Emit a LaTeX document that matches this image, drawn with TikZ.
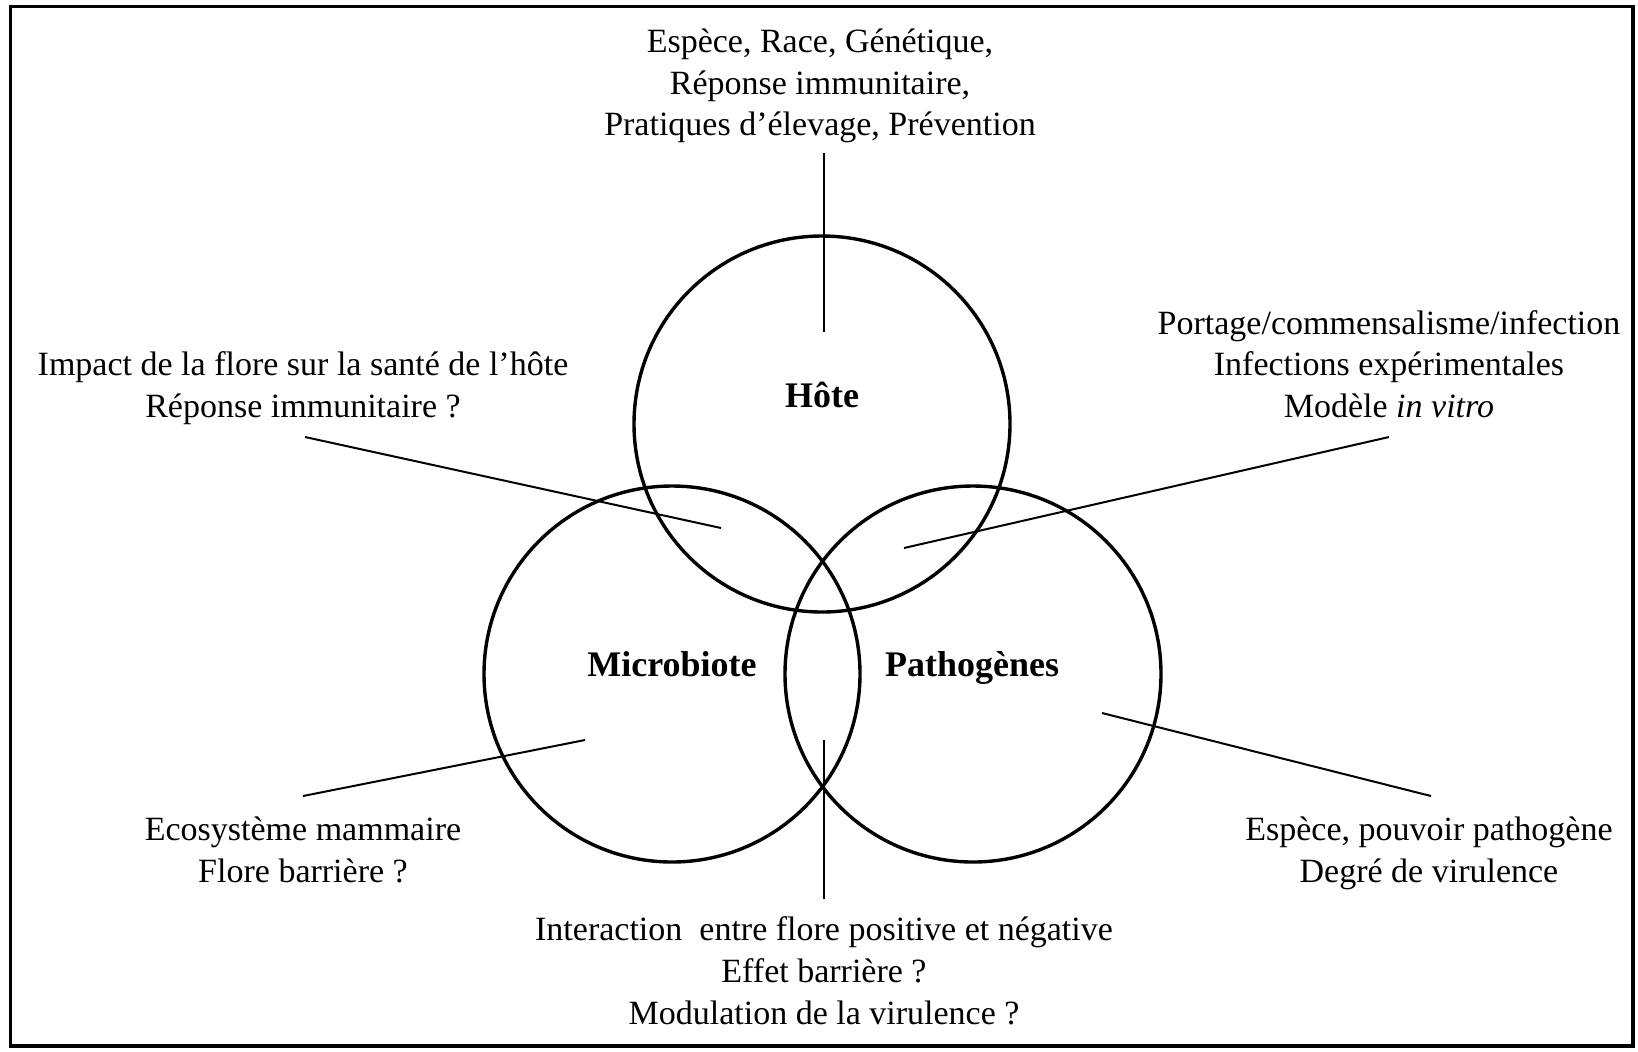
\documentclass[tikz,border=0pt]{standalone}
\usepackage{fontspec}
\setmainfont{Liberation Serif}
\begin{document}
\begin{tikzpicture}[x=0.5pt,y=-0.5pt,
  txt/.style={align=center,inner sep=0pt,font=\fontsize{17}{20.9}\selectfont},
  lbl/.style={inner sep=0pt,font=\fontsize{18}{21}\selectfont\bfseries},
  ring/.style={draw,circle,line width=1.7pt,minimum size=188pt,inner sep=0pt},
  lead/.style={draw,line width=1pt}]
\useasboundingbox (0,0) rectangle (1638,1051);
\draw[line width=1.75pt] (10.5,6.5) rectangle (1633,1046);
% circles
\node[ring] (hote) at (822,424) {};
\node[ring] (micro) at (672,674) {};
\node[ring] (patho) at (973,674) {};
% circle labels
\node[lbl] (lhote) at (822,395) {Hôte};
\node[lbl] (lmicro) at (672,664) {Microbiote};
\node[lbl] (lpatho) at (972,668) {Pathogènes};
% text blocks
\node[txt] (ttop) at (820,86) {Espèce, Race, Génétique,\\Réponse immunitaire,\\Pratiques d’élevage, Prévention};
\node[txt] (tul) at (303,388) {Impact de la flore sur la santé de l’hôte\\Réponse immunitaire ?};
\node[txt] (tur) at (1389,364) {Portage/commensalisme/infection\\Infections expérimentales\\Modèle \textit{in vitro}};
\node[txt] (tll) at (303,850) {Ecosystème mammaire\\Flore barrière ?};
\node[txt] (tlr) at (1429,853) {Espèce, pouvoir pathogène\\Degré de virulence};
\node[txt] (tbot) at (824,971) {Interaction\ \ entre flore positive et négative\\Effet barrière ?\\Modulation de la virulence ?};
% leader end points
\coordinate (p1a) at (824,153); \coordinate (p1b) at (824,332);
\coordinate (p2a) at (305,437); \coordinate (p2b) at (721,528);
\coordinate (p3a) at (1389,437); \coordinate (p3b) at (904,548);
\coordinate (p4a) at (303,796); \coordinate (p4b) at (585,740);
\coordinate (p5a) at (824,899); \coordinate (p5b) at (824,740);
\coordinate (p6a) at (1431,796); \coordinate (p6b) at (1102,713);
\draw[lead] (p1a) -- (p1b);
\draw[lead] (p2a) -- (p2b);
\draw[lead] (p3a) -- (p3b);
\draw[lead] (p4a) -- (p4b);
\draw[lead] (p5a) -- (p5b);
\draw[lead] (p6a) -- (p6b);
\end{tikzpicture}
\end{document}
